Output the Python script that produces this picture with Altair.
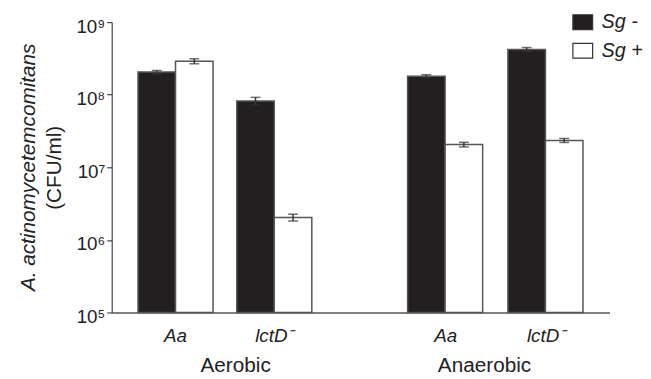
import altair as alt
import pandas as pd

conditions = ["Aerobic"] * 4 + ["Anaerobic"] * 4
strains = ["Aa", "Aa", "lctD⁻", "lctD⁻"] * 2
sg_groups = ["Sg -", "Sg +"] * 4
cfu = [2.05e8, 2.9e8, 8.2e7, 2.04e6, 1.8e8, 2.06e7, 4.2e8, 2.35e7]
err = [1.1e7, 2.3e7, 1.0e7, 2.2e5, 9.0e6, 1.5e6, 2.7e7, 1.5e6]

y_ticks = [1e5, 1e6, 1e7, 1e8, 1e9]
y_tick_labels = ["10⁵", "10⁶", "10⁷", "10⁸", "10⁹"]
strain_order = ["Aa", "lctD⁻"]
sg_order = ["Sg -", "Sg +"]

df = pd.DataFrame({"condition": conditions, "strain": strains, "sg": sg_groups,
                   "cfu": cfu, "err": err})
df["lo"] = df["cfu"] - df["err"]
df["hi"] = df["cfu"] + df["err"]

FONT = "Liberation Sans"
label_expr = " : ".join(
    f"datum.value == {v:g} ? '{l}'" for v, l in zip(y_ticks, y_tick_labels)
) + " : ''"

H = 294


def panel(cond, show_y, align, width):
    d = df[df["condition"] == cond]
    xenc = alt.X(
        "strain:N", sort=strain_order,
        scale=alt.Scale(paddingInner=0.24, paddingOuter=0.37, align=align),
        axis=alt.Axis(title=cond, labelAngle=0, ticks=False, labelFontStyle="italic",
                      labelFontSize=19, titleFontSize=21, titleFontWeight="normal",
                      labelPadding=14, titlePadding=10, domainColor="#555",
                      domainWidth=1.5, labelColor="#222", titleColor="#222",
                      labelFont=FONT, titleFont=FONT),
    )
    xoff = alt.XOffset("sg:N", sort=sg_order)
    yscale = alt.Scale(type="log", domain=[1e5, 1e9])
    if show_y:
        yaxis = alt.Axis(title="(CFU/ml)", values=y_ticks, labelExpr=label_expr,
                         grid=False, tickSize=5, tickColor="#222", domainColor="#222",
                         labelFontSize=19, labelFont=FONT, labelColor="#222",
                         labelOffset=4,
                         titleFont=FONT, titleFontSize=21, titleFontWeight="normal",
                         titleColor="#222", labelPadding=2, titlePadding=12)
    else:
        yaxis = None
    base = alt.Chart(d).encode(x=xenc, xOffset=xoff)
    bars = base.mark_bar(stroke="#555", strokeWidth=1.5).encode(
        y=alt.Y("cfu:Q", scale=yscale, axis=yaxis),
        y2=alt.datum(1e5),
        fill=alt.Fill("sg:N", sort=sg_order,
                      scale=alt.Scale(domain=sg_order, range=["#231f20", "white"]),
                      legend=alt.Legend(title=None, orient="none", legendX=466, legendY=-11,
                                        symbolType="M-1,-0.75H1V0.75H-1Z", symbolSize=400,
                                        symbolStrokeColor="#333", symbolStrokeWidth=1.2,
                                        labelFontStyle="italic", labelFontSize=20,
                                        labelFont=FONT, labelColor="#222", rowPadding=8,
                                        labelOffset=8)),
    )
    rules = base.mark_rule(color="#333", strokeWidth=1.5).encode(
        y=alt.Y("lo:Q", scale=yscale), y2="hi:Q")
    cap_hi = base.mark_tick(color="#333", size=10, thickness=1.5, orient="horizontal").encode(
        y=alt.Y("hi:Q", scale=yscale))
    cap_lo = base.mark_tick(color="#333", size=10, thickness=1.5, orient="horizontal").encode(
        y=alt.Y("lo:Q", scale=yscale))
    layer = alt.layer(bars, rules, cap_hi, cap_lo).properties(width=width, height=H)
    if show_y:
        layer = layer.properties(title=alt.TitleParams(
            "A. actinomycetemcomitans", orient="left", frame="group", anchor="middle",
            fontStyle="italic", fontSize=21, fontWeight="normal", font=FONT,
            color="#222", offset=4))
    return layer


left = panel("Aerobic", True, 0.36, 250)
right = panel("Anaerobic", False, 0.66, 254)

chart = alt.hconcat(left, right, spacing=0).configure_view(stroke=None).properties(
    padding={"left": 10, "top": 1, "right": 0, "bottom": 0})

chart.save("out.html", embed_options={"renderer": "svg", "actions": False})
